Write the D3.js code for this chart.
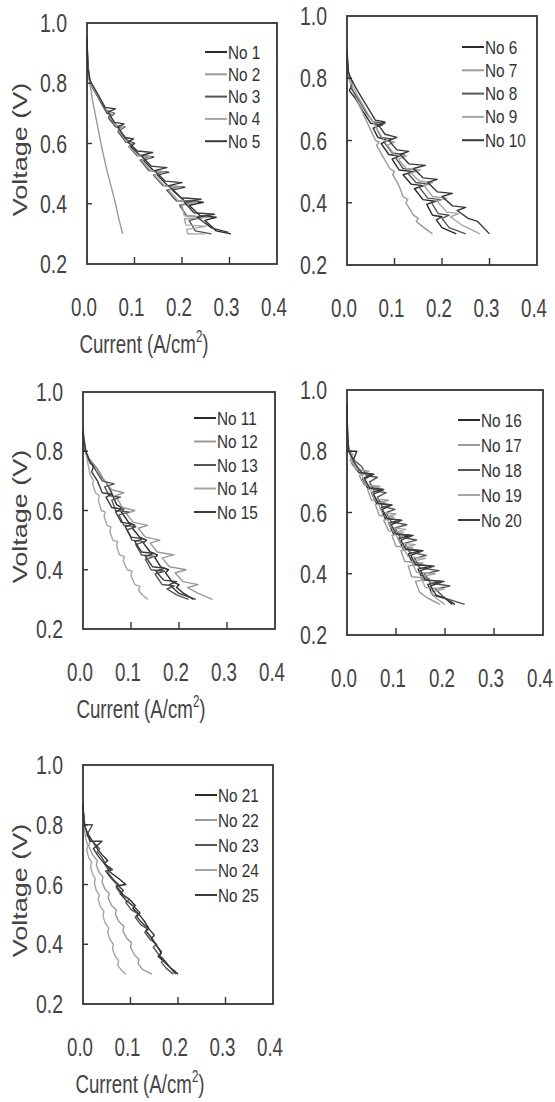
<!DOCTYPE html>
<html>
<head>
<meta charset="utf-8">
<script src="https://cdn.jsdelivr.net/npm/d3@7"></script>
<style>
  body { margin: 0; background: #fff; }
  svg { display: block; }
</style>
</head>
<body>
<div id="vis"></div>
<script>
// polarisation curves, [current A/cm2, voltage V]
var xTicks = [0.0, 0.1, 0.2, 0.3, 0.4];
var yTicks = [0.2, 0.4, 0.6, 0.8, 1.0];
var innerXTicks = [0.1, 0.2, 0.3];
var innerYTicks = [0.4, 0.6, 0.8];

var names1 = ["No 1", "No 2", "No 3", "No 4", "No 5"];
var names2 = ["No 6", "No 7", "No 8", "No 9", "No 10"];
var names3 = ["No 11", "No 12", "No 13", "No 14", "No 15"];
var names4 = ["No 16", "No 17", "No 18", "No 19", "No 20"];
var names5 = ["No 21", "No 22", "No 23", "No 24", "No 25"];

var no1 = [[0.000,0.95],[0.002,0.86],[0.006,0.80],[0.025,0.75],[0.040,0.71],[0.058,0.70],[0.046,0.69],[0.062,0.66],[0.080,0.655],[0.068,0.645],[0.085,0.61],[0.100,0.60],[0.092,0.59],[0.112,0.56],[0.140,0.555],[0.118,0.545],[0.140,0.51],[0.172,0.505],[0.148,0.495],[0.170,0.46],[0.206,0.455],[0.180,0.445],[0.205,0.41],[0.245,0.405],[0.215,0.395],[0.238,0.36],[0.272,0.355],[0.248,0.345],[0.272,0.31],[0.303,0.30]];
var no2 = [[0.000,0.86],[0.004,0.82],[0.012,0.74],[0.022,0.66],[0.032,0.58],[0.042,0.51],[0.052,0.45],[0.060,0.40],[0.067,0.35],[0.075,0.30]];
var no3 = [[0.000,0.92],[0.003,0.84],[0.008,0.80],[0.028,0.74],[0.042,0.70],[0.055,0.695],[0.045,0.685],[0.060,0.655],[0.075,0.65],[0.065,0.64],[0.082,0.605],[0.098,0.60],[0.088,0.59],[0.105,0.56],[0.130,0.555],[0.112,0.545],[0.130,0.51],[0.160,0.505],[0.140,0.495],[0.160,0.46],[0.192,0.455],[0.168,0.445],[0.188,0.41],[0.225,0.405],[0.195,0.395],[0.210,0.36],[0.245,0.355],[0.215,0.345],[0.228,0.31],[0.262,0.30]];
var no4 = [[0.000,0.90],[0.002,0.84],[0.007,0.80],[0.028,0.745],[0.044,0.705],[0.056,0.70],[0.047,0.69],[0.062,0.66],[0.078,0.655],[0.066,0.645],[0.082,0.61],[0.095,0.60],[0.088,0.59],[0.108,0.56],[0.135,0.555],[0.115,0.545],[0.135,0.51],[0.165,0.505],[0.142,0.495],[0.163,0.46],[0.198,0.455],[0.172,0.445],[0.192,0.41],[0.232,0.405],[0.200,0.395],[0.205,0.36],[0.255,0.355],[0.205,0.35],[0.208,0.33],[0.250,0.325],[0.210,0.315],[0.212,0.30],[0.250,0.30]];
var no5 = [[0.000,0.93],[0.002,0.85],[0.006,0.81],[0.026,0.755],[0.038,0.72],[0.060,0.715],[0.044,0.705],[0.058,0.67],[0.078,0.665],[0.064,0.655],[0.080,0.62],[0.098,0.615],[0.086,0.605],[0.106,0.575],[0.138,0.57],[0.114,0.56],[0.135,0.525],[0.168,0.52],[0.142,0.51],[0.165,0.475],[0.200,0.47],[0.172,0.46],[0.198,0.42],[0.240,0.415],[0.205,0.405],[0.225,0.37],[0.268,0.365],[0.232,0.355],[0.262,0.32],[0.298,0.305]];

var no6 = [[0.000,0.88],[0.002,0.82],[0.006,0.80],[0.010,0.78],[0.005,0.76],[0.020,0.73],[0.035,0.69],[0.050,0.655],[0.075,0.65],[0.055,0.64],[0.065,0.61],[0.085,0.60],[0.072,0.59],[0.088,0.555],[0.110,0.55],[0.095,0.54],[0.110,0.505],[0.140,0.50],[0.118,0.49],[0.135,0.46],[0.160,0.455],[0.142,0.445],[0.160,0.41],[0.185,0.405],[0.168,0.395],[0.180,0.36],[0.200,0.355],[0.188,0.345],[0.200,0.32],[0.230,0.30]];
var no7 = [[0.000,0.87],[0.004,0.80],[0.015,0.75],[0.030,0.70],[0.045,0.65],[0.060,0.60],[0.068,0.595],[0.062,0.585],[0.075,0.55],[0.090,0.51],[0.100,0.50],[0.096,0.49],[0.108,0.46],[0.118,0.42],[0.128,0.41],[0.124,0.40],[0.140,0.36],[0.150,0.35],[0.146,0.34],[0.162,0.32],[0.180,0.30]];
var no8 = [[0.000,0.86],[0.004,0.80],[0.012,0.79],[0.008,0.77],[0.025,0.73],[0.040,0.69],[0.055,0.66],[0.080,0.655],[0.060,0.645],[0.072,0.61],[0.095,0.605],[0.078,0.595],[0.095,0.56],[0.120,0.555],[0.102,0.545],[0.118,0.51],[0.150,0.505],[0.128,0.495],[0.145,0.465],[0.172,0.46],[0.152,0.45],[0.170,0.415],[0.198,0.41],[0.178,0.40],[0.192,0.365],[0.215,0.36],[0.200,0.35],[0.215,0.32],[0.250,0.30]];
var no9 = [[0.000,0.85],[0.005,0.80],[0.020,0.75],[0.035,0.71],[0.050,0.67],[0.062,0.64],[0.078,0.60],[0.100,0.595],[0.085,0.585],[0.100,0.555],[0.125,0.55],[0.108,0.54],[0.125,0.51],[0.155,0.505],[0.135,0.495],[0.152,0.47],[0.180,0.465],[0.162,0.455],[0.180,0.42],[0.210,0.415],[0.190,0.405],[0.210,0.37],[0.235,0.365],[0.218,0.355],[0.240,0.33],[0.280,0.30]];
var no10 = [[0.000,0.89],[0.003,0.82],[0.008,0.80],[0.022,0.76],[0.038,0.72],[0.050,0.69],[0.060,0.665],[0.080,0.66],[0.066,0.65],[0.080,0.62],[0.105,0.61],[0.088,0.60],[0.105,0.57],[0.130,0.565],[0.112,0.555],[0.130,0.525],[0.165,0.52],[0.140,0.51],[0.160,0.48],[0.190,0.475],[0.170,0.465],[0.190,0.435],[0.222,0.43],[0.200,0.42],[0.222,0.39],[0.250,0.385],[0.232,0.375],[0.255,0.35],[0.275,0.34],[0.300,0.30]];

var no11 = [[0.000,0.87],[0.003,0.81],[0.010,0.78],[0.020,0.76],[0.030,0.74],[0.040,0.71],[0.050,0.69],[0.058,0.665],[0.070,0.62],[0.085,0.605],[0.080,0.595],[0.095,0.56],[0.108,0.55],[0.103,0.54],[0.118,0.51],[0.132,0.50],[0.126,0.49],[0.140,0.46],[0.155,0.45],[0.150,0.44],[0.162,0.41],[0.178,0.40],[0.172,0.39],[0.185,0.36],[0.200,0.35],[0.195,0.34],[0.210,0.32],[0.230,0.30]];
var no12 = [[0.000,0.86],[0.005,0.80],[0.015,0.77],[0.030,0.74],[0.045,0.70],[0.060,0.67],[0.085,0.66],[0.068,0.65],[0.082,0.61],[0.108,0.60],[0.090,0.59],[0.105,0.56],[0.135,0.55],[0.115,0.54],[0.130,0.51],[0.160,0.50],[0.140,0.49],[0.155,0.46],[0.190,0.45],[0.165,0.44],[0.180,0.41],[0.215,0.40],[0.192,0.39],[0.208,0.36],[0.240,0.35],[0.218,0.34],[0.240,0.32],[0.270,0.30]];
var no13 = [[0.000,0.85],[0.004,0.80],[0.012,0.77],[0.025,0.74],[0.040,0.70],[0.065,0.69],[0.045,0.68],[0.055,0.65],[0.078,0.645],[0.060,0.635],[0.068,0.60],[0.095,0.595],[0.075,0.585],[0.085,0.55],[0.110,0.545],[0.092,0.535],[0.102,0.50],[0.128,0.495],[0.110,0.485],[0.122,0.45],[0.150,0.445],[0.130,0.435],[0.142,0.40],[0.170,0.395],[0.150,0.385],[0.165,0.35],[0.190,0.345],[0.175,0.335],[0.195,0.315],[0.220,0.30]];
var no14 = [[0.000,0.88],[0.004,0.82],[0.010,0.76],[0.015,0.72],[0.022,0.70],[0.020,0.69],[0.026,0.66],[0.034,0.65],[0.032,0.635],[0.038,0.60],[0.046,0.595],[0.044,0.58],[0.050,0.55],[0.058,0.545],[0.056,0.53],[0.062,0.50],[0.072,0.495],[0.070,0.48],[0.076,0.45],[0.086,0.445],[0.084,0.43],[0.092,0.40],[0.102,0.395],[0.100,0.38],[0.108,0.35],[0.118,0.345],[0.116,0.33],[0.124,0.315],[0.135,0.30]];
var no15 = [[0.000,0.86],[0.006,0.80],[0.015,0.76],[0.022,0.75],[0.018,0.73],[0.030,0.70],[0.040,0.66],[0.060,0.655],[0.048,0.645],[0.060,0.61],[0.080,0.605],[0.068,0.595],[0.080,0.56],[0.102,0.555],[0.088,0.545],[0.100,0.51],[0.125,0.505],[0.108,0.495],[0.122,0.46],[0.148,0.455],[0.130,0.445],[0.145,0.41],[0.170,0.405],[0.152,0.395],[0.168,0.365],[0.195,0.36],[0.180,0.35],[0.200,0.32],[0.235,0.30]];

var no16 = [[0.000,0.95],[0.001,0.85],[0.002,0.80],[0.020,0.80],[0.010,0.76],[0.025,0.73],[0.050,0.725],[0.032,0.71],[0.042,0.68],[0.072,0.675],[0.050,0.665],[0.060,0.63],[0.088,0.625],[0.068,0.615],[0.078,0.58],[0.108,0.575],[0.085,0.565],[0.095,0.53],[0.130,0.525],[0.105,0.515],[0.115,0.48],[0.150,0.475],[0.125,0.465],[0.135,0.43],[0.172,0.425],[0.145,0.415],[0.155,0.38],[0.192,0.375],[0.165,0.365],[0.175,0.33],[0.200,0.32],[0.220,0.30]];
var no17 = [[0.000,0.90],[0.002,0.82],[0.008,0.78],[0.018,0.74],[0.040,0.735],[0.025,0.72],[0.035,0.69],[0.062,0.685],[0.042,0.675],[0.050,0.64],[0.078,0.635],[0.058,0.625],[0.066,0.59],[0.096,0.585],[0.075,0.575],[0.085,0.54],[0.115,0.535],[0.092,0.525],[0.100,0.49],[0.135,0.485],[0.110,0.475],[0.118,0.44],[0.155,0.435],[0.125,0.425],[0.132,0.39],[0.168,0.385],[0.140,0.375],[0.148,0.34],[0.165,0.32],[0.190,0.30]];
var no18 = [[0.000,0.88],[0.003,0.80],[0.015,0.77],[0.030,0.75],[0.040,0.72],[0.062,0.715],[0.046,0.70],[0.056,0.67],[0.080,0.665],[0.062,0.65],[0.072,0.62],[0.098,0.61],[0.080,0.60],[0.090,0.57],[0.122,0.56],[0.098,0.55],[0.108,0.52],[0.142,0.51],[0.118,0.50],[0.128,0.47],[0.162,0.46],[0.138,0.45],[0.148,0.42],[0.188,0.41],[0.158,0.40],[0.170,0.37],[0.210,0.36],[0.180,0.35],[0.200,0.32],[0.240,0.30]];
var no19 = [[0.000,0.87],[0.002,0.81],[0.012,0.79],[0.006,0.77],[0.022,0.74],[0.045,0.735],[0.030,0.72],[0.040,0.69],[0.068,0.685],[0.048,0.675],[0.056,0.645],[0.085,0.64],[0.064,0.63],[0.072,0.60],[0.100,0.595],[0.080,0.585],[0.090,0.55],[0.120,0.545],[0.098,0.535],[0.108,0.50],[0.140,0.495],[0.115,0.485],[0.125,0.455],[0.160,0.45],[0.132,0.44],[0.142,0.405],[0.180,0.40],[0.150,0.39],[0.160,0.355],[0.198,0.35],[0.170,0.34],[0.182,0.32],[0.200,0.30]];
var no20 = [[0.000,0.92],[0.002,0.84],[0.004,0.80],[0.016,0.76],[0.030,0.73],[0.055,0.725],[0.036,0.71],[0.046,0.68],[0.075,0.675],[0.054,0.66],[0.064,0.63],[0.092,0.625],[0.072,0.61],[0.082,0.58],[0.112,0.575],[0.090,0.56],[0.100,0.53],[0.135,0.525],[0.110,0.51],[0.120,0.48],[0.155,0.475],[0.130,0.46],[0.140,0.43],[0.178,0.425],[0.150,0.41],[0.160,0.38],[0.198,0.375],[0.170,0.36],[0.182,0.33],[0.200,0.32],[0.215,0.30]];

var no21 = [[0.000,0.87],[0.002,0.80],[0.010,0.77],[0.020,0.745],[0.030,0.72],[0.040,0.70],[0.052,0.68],[0.045,0.67],[0.058,0.64],[0.075,0.62],[0.090,0.60],[0.070,0.595],[0.085,0.565],[0.098,0.55],[0.110,0.53],[0.105,0.52],[0.118,0.50],[0.128,0.48],[0.138,0.455],[0.132,0.445],[0.145,0.42],[0.155,0.395],[0.165,0.37],[0.158,0.36],[0.172,0.34],[0.185,0.32],[0.200,0.30]];
var no22 = [[0.000,0.86],[0.003,0.80],[0.008,0.77],[0.015,0.745],[0.012,0.73],[0.020,0.70],[0.030,0.68],[0.028,0.665],[0.034,0.64],[0.042,0.625],[0.040,0.61],[0.046,0.585],[0.055,0.57],[0.053,0.555],[0.060,0.53],[0.070,0.515],[0.068,0.50],[0.076,0.475],[0.086,0.46],[0.084,0.445],[0.092,0.42],[0.102,0.405],[0.100,0.39],[0.108,0.365],[0.118,0.35],[0.116,0.335],[0.126,0.315],[0.145,0.30]];
var no23 = [[0.000,0.85],[0.004,0.80],[0.020,0.80],[0.008,0.765],[0.020,0.745],[0.035,0.72],[0.030,0.71],[0.040,0.69],[0.050,0.66],[0.060,0.65],[0.052,0.64],[0.065,0.615],[0.075,0.60],[0.070,0.59],[0.082,0.565],[0.098,0.55],[0.090,0.54],[0.102,0.515],[0.118,0.50],[0.110,0.49],[0.122,0.465],[0.138,0.45],[0.130,0.44],[0.142,0.415],[0.155,0.40],[0.148,0.39],[0.160,0.365],[0.170,0.35],[0.165,0.34],[0.175,0.32],[0.190,0.30]];
var no24 = [[0.000,0.86],[0.002,0.80],[0.005,0.76],[0.010,0.73],[0.008,0.715],[0.012,0.69],[0.018,0.675],[0.016,0.66],[0.020,0.635],[0.026,0.62],[0.024,0.605],[0.028,0.58],[0.034,0.565],[0.032,0.55],[0.037,0.525],[0.044,0.51],[0.042,0.495],[0.047,0.47],[0.054,0.455],[0.052,0.44],[0.057,0.415],[0.064,0.40],[0.062,0.385],[0.068,0.36],[0.075,0.345],[0.073,0.33],[0.080,0.315],[0.090,0.30]];
var no25 = [[0.000,0.86],[0.003,0.80],[0.015,0.745],[0.040,0.745],[0.022,0.72],[0.032,0.695],[0.045,0.67],[0.062,0.65],[0.048,0.645],[0.060,0.62],[0.072,0.60],[0.085,0.58],[0.078,0.57],[0.092,0.545],[0.108,0.525],[0.120,0.505],[0.112,0.495],[0.125,0.47],[0.140,0.45],[0.150,0.43],[0.144,0.42],[0.155,0.395],[0.165,0.375],[0.160,0.36],[0.172,0.345],[0.182,0.325],[0.195,0.30]];

// grey levels of the five series in each panel
var seriesColors = ["#2a2a2a", "#9a9a9a", "#555555", "#a5a5a5", "#3a3a3a"];

// layout of the five frames
var panels = [
  { box: { l: 87, t: 23, r: 277, b: 264 }, names: names1, series: [no1, no2, no3, no4, no5], yTitle: true, xTitle: true, leg: { x: 205, y: 52, step: 22.3 } },
  { box: { l: 347, t: 16, r: 537, b: 265 }, names: names2, series: [no6, no7, no8, no9, no10], yTitle: false, xTitle: false, leg: { x: 462, y: 47, step: 23.3 } },
  { box: { l: 83, t: 392, r: 275, b: 629 }, names: names3, series: [no11, no12, no13, no14, no15], yTitle: true, xTitle: true, leg: { x: 194, y: 418, step: 23.5 } },
  { box: { l: 347, t: 390, r: 543, b: 635 }, names: names4, series: [no16, no17, no18, no19, no20], yTitle: false, xTitle: false, leg: { x: 458, y: 420, step: 25 } },
  { box: { l: 83, t: 765, r: 273, b: 1004 }, names: names5, series: [no21, no22, no23, no24, no25], yTitle: true, xTitle: true, leg: { x: 195, y: 795, step: 25 } }
];

var font = "'Liberation Sans', Arial, sans-serif";
var textColor = "#444";

var svg = d3.select('#vis').append('svg')
  .attr('width', 555)
  .attr('height', 1102);

// condensed looking text: squeeze horizontally
function addText(g, x, y, str, size, anchor, sx) {
  return g.append('text')
    .attr('transform', 'translate(' + x + ',' + y + ') scale(' + sx + ',1)')
    .attr('text-anchor', anchor)
    .style('font-family', font)
    .style('font-size', size + 'px')
    .style('fill', textColor)
    .text(str);
}

panels.forEach(function (p) {
  var b = p.box;
  var x = d3.scaleLinear().domain([0, 0.4]).range([b.l, b.r]);
  var y = d3.scaleLinear().domain([0.2, 1.0]).range([b.b, b.t]);
  var g = svg.append('g');

  // curves
  var line = d3.line()
    .x(function (d) { return x(d[0]); })
    .y(function (d) { return y(d[1]); });

  g.selectAll('path.curve')
    .data(p.series)
    .enter().append('path')
    .attr('class', 'curve')
    .attr('d', line)
    .style('fill', 'none')
    .style('stroke', function (d, i) { return seriesColors[i]; })
    .style('stroke-width', 1.4)
    .style('stroke-linejoin', 'round');

  // frame
  g.append('rect')
    .attr('x', b.l).attr('y', b.t)
    .attr('width', b.r - b.l).attr('height', b.b - b.t)
    .style('fill', 'none')
    .style('stroke', '#333')
    .style('stroke-width', 1.8);

  // inward ticks
  g.selectAll('line.xt')
    .data(innerXTicks)
    .enter().append('line')
    .attr('x1', function (d) { return x(d); })
    .attr('x2', function (d) { return x(d); })
    .attr('y1', b.b).attr('y2', b.b - 7)
    .style('stroke', '#333').style('stroke-width', 1.4);

  g.selectAll('line.yt')
    .data(innerYTicks)
    .enter().append('line')
    .attr('y1', function (d) { return y(d); })
    .attr('y2', function (d) { return y(d); })
    .attr('x1', b.l).attr('x2', b.l + 5)
    .style('stroke', '#333').style('stroke-width', 1.4);

  // tick labels
  yTicks.forEach(function (v) {
    addText(g, b.l - 20, y(v) + 9, d3.format('.1f')(v), 25, 'end', 0.78);
  });
  xTicks.forEach(function (v) {
    addText(g, x(v) - 3, b.b + 52, d3.format('.1f')(v), 25, 'middle', 0.75);
  });

  // axis titles
  if (p.yTitle) {
    g.append('text')
      .attr('transform', 'translate(27,' + ((b.t + b.b) / 2 + 6) + ') rotate(-90) scale(1,0.78)')
      .attr('text-anchor', 'middle')
      .style('font-family', font)
      .style('font-size', '27px')
      .style('fill', textColor)
      .text('Voltage (V)');
  }
  if (p.xTitle) {
    var t = addText(g, (b.l + b.r) / 2 - 38, b.b + 89, '', 26, 'middle', 0.72);
    t.append('tspan').text('Current (A/cm');
    t.append('tspan').attr('dy', -11).style('font-size', '16px').text('2');
    t.append('tspan').attr('dy', 11).text(')');
  }

  // legend
  p.names.forEach(function (n, i) {
    var ly = p.leg.y + i * p.leg.step;
    g.append('line')
      .attr('x1', p.leg.x).attr('x2', p.leg.x + 22)
      .attr('y1', ly).attr('y2', ly)
      .style('stroke', seriesColors[i])
      .style('stroke-width', 2);
    addText(g, p.leg.x + 23, ly + 6.5, n, 18, 'start', 0.85)
      .style('fill', '#333');
  });
});
</script>
</body>
</html>
